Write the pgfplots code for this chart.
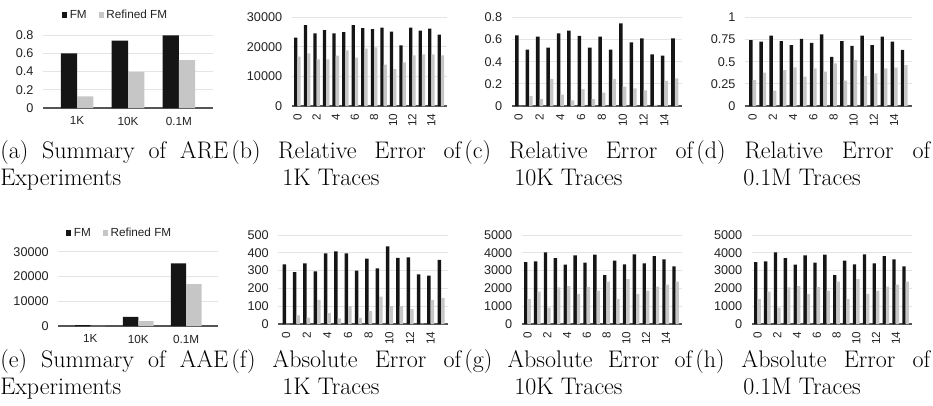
\documentclass[border=0pt]{standalone}
\usepackage{fontspec}
\usepackage{pgfplots}
\pgfplotsset{compat=1.18}
\newfontfamily\chartfont{Liberation Sans}

\definecolor{fmblack}{HTML}{151515}
\definecolor{refgray}{HTML}{C6C6C6}
\definecolor{gridgray}{HTML}{E4E4E4}
\definecolor{axisgray}{HTML}{555555}
\definecolor{txt}{HTML}{222222}

\pgfplotsset{
  chart/.style={
    scale only axis, ybar, ymin=0, enlargelimits=false, clip=false,
    axis lines=left,
    y axis line style={draw=none},
    x axis line style={draw=axisgray, line width=0.8pt, -},
    tick style={draw=none},
    ymajorgrids, grid style={draw=gridgray, line width=0.6pt},
    tick label style={font=\chartfont\fontsize{9.5}{11}\selectfont, text=txt},
    yticklabel style={xshift=-1.5pt},
    /pgf/number format/assume math mode=true,
    /pgf/number format/1000 sep={},
    scaled y ticks=false,
  },
  summ/.style={
    chart, bar width=0.32, xmin=-0.67, xmax=2.67,
    xtick={0,1,2}, xticklabels={1K,10K,0.1M},
    xticklabel style={font=\chartfont\fontsize{8.8}{10}\selectfont, yshift=-1pt},
    legend style={draw=none, fill=none, legend columns=2,
      font=\chartfont\fontsize{8.8}{10}\selectfont, text=txt,
      /tikz/every even column/.append style={column sep=7pt}},
    legend image code/.code={\fill[##1] (0pt,-1.9pt) rectangle (3.8pt,1.9pt);},
  },
  trace/.style={
    chart, bar width=0.34, xtick={0,2,...,14},
    xticklabel style={rotate=90, anchor=east, font=\chartfont\fontsize{8.8}{10}\selectfont},
  },
  fm/.style={fill=fmblack, draw=none},
  rf/.style={fill=refgray, draw=none},
}

\newcommand\capfont{\fontsize{18}{21}\selectfont}

\begin{document}
\begin{tikzpicture}
\path (0,0) rectangle (699.75pt,-303.75pt);

% (a) summary of ARE
\begin{axis}[summ, at={(32.25pt,-81pt)}, anchor=south west, width=127.5pt, height=54.75pt,
  ymax=0.8, ytick={0,0.2,0.4,0.6,0.8},
  legend style={at={(0.429,1.274)}, anchor=center}]
\addplot[fm, bar shift=-0.16] coordinates {(0,0.598) (1,0.738) (2,0.796)};
\addlegendentry{FM}
\addplot[rf, bar shift=0.16] coordinates {(0,0.128) (1,0.396) (2,0.525)};
\addlegendentry{Refined FM}
\end{axis}

% (b) relative error, 1K
\begin{axis}[trace, at={(218.8pt,-79.5pt)}, anchor=south west, width=116.25pt, height=66.5pt,
  xmin=-0.6, xmax=15.6, ymax=30000, ytick={0,10000,20000,30000}]
\addplot[fm, bar shift=-0.17] coordinates {(0,23120) (1,27400) (2,24590) (3,25710) (4,24590) (5,25040) (6,27400) (7,26390) (8,26050) (9,26500) (10,25150) (11,20530) (12,26500) (13,25490) (14,26170) (15,24140)};
\addplot[rf, bar shift=0.17] coordinates {(0,16690) (1,17820) (2,15790) (3,15790) (4,17030) (5,18840) (6,16350) (7,19400) (8,19850) (9,13990) (10,12520) (11,14770) (12,17140) (13,17480) (14,17480) (15,17140)};
\end{axis}

% (c) relative error, 10K
\begin{axis}[trace, at={(383.8pt,-79.5pt)}, anchor=south west, width=127.5pt, height=66.5pt,
  xmin=-0.67, xmax=15.67, ymax=0.8, ytick={0,0.2,0.4,0.6,0.8}]
\addplot[fm, bar shift=-0.17] coordinates {(0,0.638) (1,0.508) (2,0.626) (3,0.526) (4,0.656) (5,0.680) (6,0.632) (7,0.526) (8,0.626) (9,0.508) (10,0.746) (11,0.574) (12,0.611) (13,0.466) (14,0.454) (15,0.611)};
\addplot[rf, bar shift=0.17] coordinates {(0,0.002) (1,0.090) (2,0.063) (3,0.244) (4,0.102) (5,0.051) (6,0.153) (7,0.063) (8,0.120) (9,0.244) (10,0.174) (11,0.159) (12,0.141) (13,0.010) (14,0.226) (15,0.250)};
\end{axis}

% (d) relative error, 0.1M
\begin{axis}[trace, at={(558.75pt,-79.5pt)}, anchor=south west, width=125pt, height=66.5pt,
  xmin=-0.76, xmax=15.74, ymax=1, ytick={0,0.25,0.5,0.75,1}]
\addplot[fm, bar shift=-0.17] coordinates {(0,0.744) (1,0.726) (2,0.793) (3,0.733) (4,0.688) (5,0.756) (6,0.711) (7,0.808) (8,0.553) (9,0.733) (10,0.677) (11,0.793) (12,0.688) (13,0.782) (14,0.726) (15,0.632)};
\addplot[rf, bar shift=0.17] coordinates {(0,0.293) (1,0.376) (2,0.173) (3,0.406) (4,0.436) (5,0.331) (6,0.425) (7,0.387) (8,0.481) (9,0.286) (10,0.519) (11,0.338) (12,0.368) (13,0.425) (14,0.432) (15,0.462)};
\end{axis}

% (e) summary of AAE
\begin{axis}[summ, at={(43.7pt,-244.5pt)}, anchor=south west, width=120pt, height=55.7pt,
  ymax=30000, ytick={0,10000,20000,30000},
  legend style={at={(0.386,1.252)}, anchor=center}]
\addplot[fm, bar shift=-0.16] coordinates {(0,350) (1,3700) (2,25290)};
\addlegendentry{FM}
\addplot[rf, bar shift=0.16] coordinates {(0,90) (1,1950) (2,16950)};
\addlegendentry{Refined FM}
\end{axis}

% (f) absolute error, 1K
\begin{axis}[trace, at={(208.7pt,-243pt)}, anchor=south west, width=127.5pt, height=66.75pt,
  xmin=-0.75, xmax=15.7, ymax=500, ytick={0,100,200,300,400,500}]
\addplot[fm, bar shift=-0.17] coordinates {(0,335) (1,292) (2,341) (3,296) (4,397) (5,408) (6,397) (7,300) (8,367) (9,313) (10,436) (11,371) (12,375) (13,279) (14,272) (15,360)};
\addplot[rf, bar shift=0.17] coordinates {(0,2) (1,49) (2,36) (3,135) (4,62) (5,32) (6,101) (7,34) (8,73) (9,154) (10,101) (11,101) (12,84) (13,2) (14,135) (15,146)};
\end{axis}

% (g) absolute error, 10K
\begin{axis}[trace, at={(391.3pt,-243pt)}, anchor=south west, width=120pt, height=66.75pt,
  xmin=-0.58, xmax=15.62, ymax=5000, ytick={0,1000,2000,3000,4000,5000}]
\addplot[fm, bar shift=-0.17] coordinates {(0,3483) (1,3521) (2,4026) (3,3708) (4,3333) (5,3858) (6,3446) (7,3895) (8,2753) (9,3558) (10,3352) (11,3914) (12,3408) (13,3820) (14,3633) (15,3240)};
\addplot[rf, bar shift=0.17] coordinates {(0,1404) (1,1816) (2,918) (3,2060) (4,2135) (5,1685) (6,2079) (7,1873) (8,2378) (9,1404) (10,2528) (11,1685) (12,1873) (13,2097) (14,2210) (15,2378)};
\end{axis}

% (h) absolute error, 0.1M
\begin{axis}[trace, at={(563.8pt,-243pt)}, anchor=south west, width=120pt, height=66.75pt,
  xmin=-0.58, xmax=15.62, ymax=5000, ytick={0,1000,2000,3000,4000,5000}]
\addplot[fm, bar shift=-0.17] coordinates {(0,3483) (1,3521) (2,4026) (3,3708) (4,3333) (5,3858) (6,3446) (7,3895) (8,2753) (9,3558) (10,3352) (11,3914) (12,3408) (13,3820) (14,3633) (15,3240)};
\addplot[rf, bar shift=0.17] coordinates {(0,1404) (1,1816) (2,918) (3,2060) (4,2135) (5,1685) (6,2079) (7,1873) (8,2378) (9,1404) (10,2528) (11,1685) (12,1873) (13,2097) (14,2210) (15,2378)};
\end{axis}

% captions, row 1
\node[anchor=base west, inner sep=0] at (0pt,-118.5pt) {\capfont\makebox[171pt][s]{(a) Summary of ARE}};
\node[anchor=base west, inner sep=0] at (173.25pt,-118.5pt) {\capfont\makebox[172.5pt][s]{(b) Relative Error of}};
\node[anchor=base west, inner sep=0] at (348pt,-118.5pt) {\capfont\makebox[171.75pt][s]{(c) Relative Error of}};
\node[anchor=base west, inner sep=0] at (522pt,-118.5pt) {\capfont\makebox[175.5pt][s]{(d) Relative Error of}};
\node[anchor=base west, inner sep=0] at (0pt,-138.75pt) {\capfont Experiments};
\node[anchor=base west, inner sep=0] at (211.5pt,-138.75pt) {\capfont 1K Traces};
\node[anchor=base west, inner sep=0] at (385.5pt,-138.75pt) {\capfont 10K Traces};
\node[anchor=base west, inner sep=0] at (557.25pt,-138.75pt) {\capfont 0.1M Traces};

% captions, row 2
\node[anchor=base west, inner sep=0] at (0pt,-275.25pt) {\capfont\makebox[171pt][s]{(e) Summary of AAE}};
\node[anchor=base west, inner sep=0] at (173.25pt,-275.25pt) {\capfont\makebox[172.5pt][s]{(f) Absolute Error of}};
\node[anchor=base west, inner sep=0] at (348pt,-275.25pt) {\capfont\makebox[171pt][s]{(g) Absolute Error of}};
\node[anchor=base west, inner sep=0] at (521.25pt,-275.25pt) {\capfont\makebox[176.25pt][s]{(h) Absolute Error of}};
\node[anchor=base west, inner sep=0] at (0pt,-295.5pt) {\capfont Experiments};
\node[anchor=base west, inner sep=0] at (211.5pt,-295.5pt) {\capfont 1K Traces};
\node[anchor=base west, inner sep=0] at (385.5pt,-295.5pt) {\capfont 10K Traces};
\node[anchor=base west, inner sep=0] at (557.25pt,-295.5pt) {\capfont 0.1M Traces};
\end{tikzpicture}
\end{document}
